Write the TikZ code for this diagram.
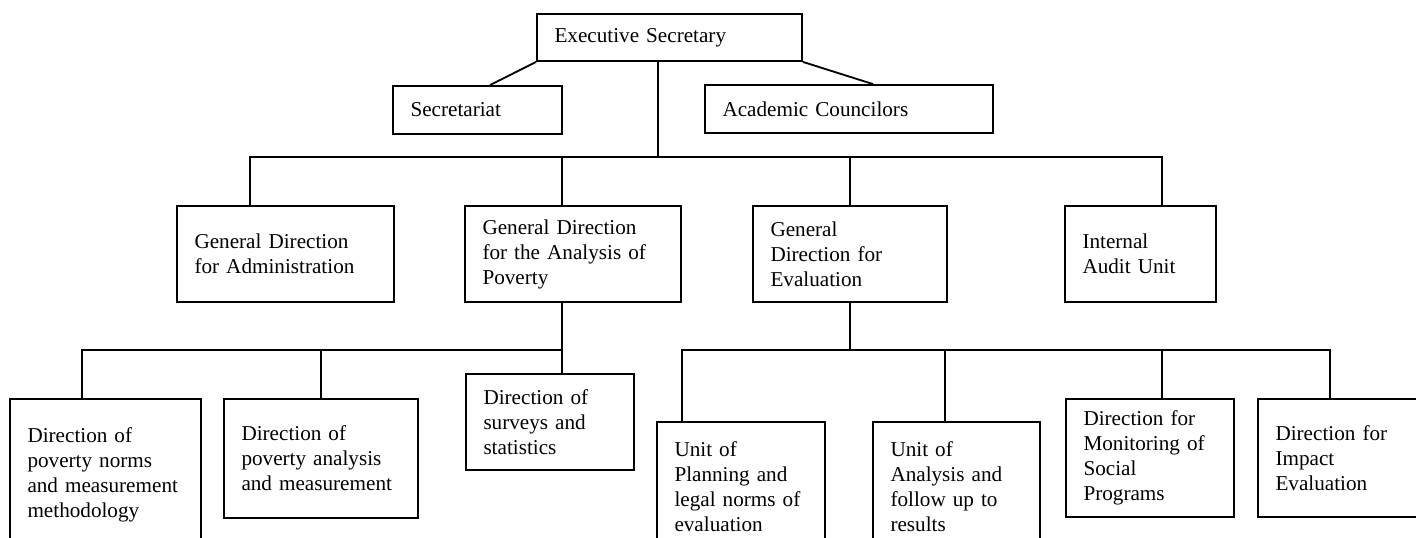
\documentclass[tikz,border=0pt]{standalone}
\usepackage{fontspec}
\setmainfont{Liberation Serif}
\usepackage{tikz}
\usetikzlibrary{calc,positioning}
\newcommand{\orgfont}{\fontsize{12.7}{15}\selectfont}
\tikzset{%
	block/.style    = {draw, rectangle, line width=1.1pt, align=left, inner xsep=10.5pt, inner ysep=0pt, font=\orgfont}, % unit box
	link/.style     = {line width=1.1pt}, % connector
}

\begin{document}
\begin{tikzpicture}[x=0.6pt, y=-0.6pt]
	\useasboundingbox (0,0) rectangle (1416,537);
	\clip (0,0) rectangle (1416,537);
	% top level
	\node[block, text width=138pt, minimum height=28.2pt] (exec) at (669.5,37.5) {Executive Secretary};
	\node[block, text width=80.4pt, minimum height=28.8pt] (secr) at (477.5,110) {Secretariat};
	\node[block, text width=151.8pt, minimum height=28.8pt] (acad) at (849,109) {Academic Councilors};
	% general directions
	\node[block, text width=109.2pt, minimum height=57.6pt] (gdadm) at (285.5,254) {General Direction\\for Administration};
	\node[block, text width=108.6pt, minimum height=57.6pt] (gdpov) at (573,254) {General Direction\\for the Analysis of\\Poverty};
	\node[block, text width=95.4pt, minimum height=57.6pt] (gdeval) at (850,254) {General\\Direction for\\Evaluation};
	\node[block, text width=69.6pt, minimum height=57.6pt] (audit) at (1140.5,254) {Internal\\Audit Unit};
	% poverty units
	\node[block, text width=93.6pt, minimum height=90.6pt] (norms) at (105.5,474.5) {Direction of\\poverty norms\\and measurement\\methodology};
	\node[block, text width=95.4pt, minimum height=71.4pt] (povan) at (321,458.5) {Direction of\\poverty analysis\\and measurement};
	\node[block, text width=79.8pt, minimum height=57.6pt] (surv) at (550,422) {Direction of\\surveys and\\statistics};
	% evaluation units
	\node[block, text width=79.8pt, minimum height=77.4pt] (plan) at (741,486.5) {Unit of\\Planning and\\legal norms of\\evaluation};
	\node[block, text width=79.2pt, minimum height=77.4pt] (folup) at (956.5,486.5) {Unit of\\Analysis and\\follow up to\\results};
	\node[block, text width=79.8pt, minimum height=70.8pt] (monit) at (1150,458) {Direction for\\Monitoring of\\Social\\Programs};
	\node[block, text width=79.8pt, minimum height=70.8pt] (impact) at (1342,458) {Direction for\\Impact\\Evaluation};
	% buses
	\coordinate (bus1) at (658,157);
	\coordinate (bus2) at (562,350);
	\coordinate (bus3) at (850,350);
	% connectors
	\draw[link] (exec.south west) -- ([xshift=7.5pt]secr.north);
	\draw[link] (exec.south east) -- ([xshift=14.4pt]acad.north);
	\draw[link] (bus1) -- (bus1 |- exec.south);
	\draw[link] ([xshift=-21.3pt]gdadm.north) |- (bus1) -| ([xshift=12.9pt]audit.north);
	\draw[link] ([xshift=-6.6pt]gdpov.north) |- (bus1);
	\draw[link] (gdeval.north) |- (bus1);
	\draw[link] ([xshift=-6.6pt]gdpov.south) -- ([xshift=7.2pt]surv.north);
	\draw[link] ([xshift=-14.1pt]norms.north) |- (bus2);
	\draw[link] (povan.north) |- (bus2);
	\draw[link] (gdeval.south) -- (bus3);
	\draw[link] ([xshift=-35.4pt]plan.north) |- (bus3) -| ([xshift=-7.2pt]impact.north);
	\draw[link] ([xshift=-6.9pt]folup.north) |- (bus3);
	\draw[link] ([xshift=7.2pt]monit.north) |- (bus3);
\end{tikzpicture}
\end{document}
